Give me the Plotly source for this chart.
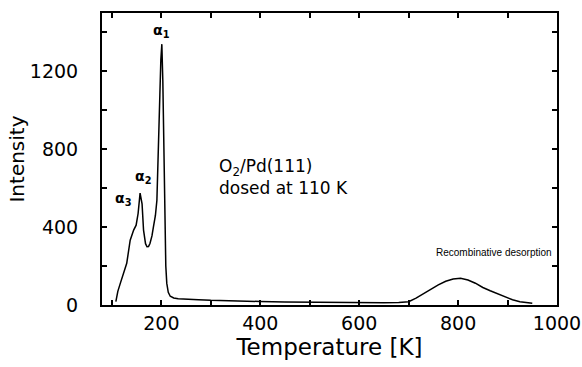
import plotly.graph_objects as go

# ---- data ----
temperature = [108, 112, 117, 124, 130, 137, 144, 149, 153, 157, 161, 164, 168, 171,
               174, 177, 181, 184, 188, 191, 194, 197, 199, 201, 203, 205, 207, 209,
               211, 214, 218, 225, 234, 250, 275, 300, 350, 400, 450, 500, 550, 600,
               650, 680, 700, 715, 730, 745, 760, 775, 790, 805, 820, 835, 850, 865,
               880, 895, 910, 925, 940, 950]
intensity = [17, 70, 111, 163, 214, 333, 385, 410, 470, 575, 520, 385, 315, 299,
             300, 316, 355, 401, 460, 538, 760, 1080, 1260, 1340, 1150, 760, 420, 200,
             111, 65, 45, 36, 32, 29, 27, 24, 20, 18, 16, 14, 13, 12,
             12, 13, 17, 35, 58, 80, 103, 122, 133, 137, 128, 112, 90, 73,
             58, 40, 27, 17, 11, 9]

x_tickvals = [200, 400, 600, 800, 1000]
x_ticktext = ["200", "400", "600", "800", "1000"]
y_tickvals = [0, 400, 800, 1200]
y_ticktext = ["0", "400", "800", "1200"]

peak_names = ["α<sub>1</sub>", "α<sub>2</sub>", "α<sub>3</sub>"]
sample_text = "O<sub>2</sub>/Pd(111)<br>dosed at 110 K"
recomb_text = "Recombinative desorption"

FONT = "DejaVu Sans"

fig = go.Figure()
fig.add_trace(go.Scatter(x=temperature, y=intensity, mode="lines",
                         line=dict(color="black", width=1.5), showlegend=False))

axis_common = dict(showline=True, linecolor="black", linewidth=2, mirror="ticks",
                   ticks="inside", ticklen=5, tickwidth=1.5, tickcolor="black",
                   showgrid=False, zeroline=False, automargin=False,
                   tickfont=dict(family=FONT, size=19, color="black"))

fig.update_xaxes(range=[80, 1000], tickmode="array", tickvals=x_tickvals,
                 ticktext=x_ticktext, ticklabelstandoff=0,
                 minor=dict(ticks="inside", tick0=0, dtick=100, ticklen=5,
                            tickwidth=1.5, tickcolor="black", showgrid=False),
                 title=dict(text="Temperature [K]", standoff=6,
                            font=dict(family=FONT, size=23, color="black")),
                 **axis_common)
fig.update_yaxes(range=[0, 1500], tickmode="array", tickvals=y_tickvals,
                 ticktext=y_ticktext, ticklabelstandoff=18,
                 minor=dict(ticks="inside", tick0=0, dtick=200, ticklen=5,
                            tickwidth=1.5, tickcolor="black", showgrid=False),
                 title=dict(text="Intensity", standoff=0,
                            font=dict(family=FONT, size=20, color="black")),
                 **axis_common)

ann_font = dict(family=FONT, size=14, color="black")
fig.add_annotation(x=200, y=1410, text="<b>" + peak_names[0] + "</b>", showarrow=False, font=ann_font)
fig.add_annotation(x=162, y=660, text="<b>" + peak_names[1] + "</b>", showarrow=False, font=ann_font)
fig.add_annotation(x=124, y=545, text="<b>" + peak_names[2] + "</b>", showarrow=False, font=ann_font)
fig.add_annotation(x=312, y=660, text=sample_text, showarrow=False, xanchor="left",
                   align="left", font=dict(family=FONT, size=17, color="black"))
fig.add_annotation(x=872, y=272, text=recomb_text, showarrow=False,
                   font=dict(family="Liberation Sans", size=10, color="black"))

fig.update_layout(width=582, height=367, margin=dict(l=102, r=25, t=13, b=62),
                  paper_bgcolor="white", plot_bgcolor="white")

fig.write_html("out.html")
